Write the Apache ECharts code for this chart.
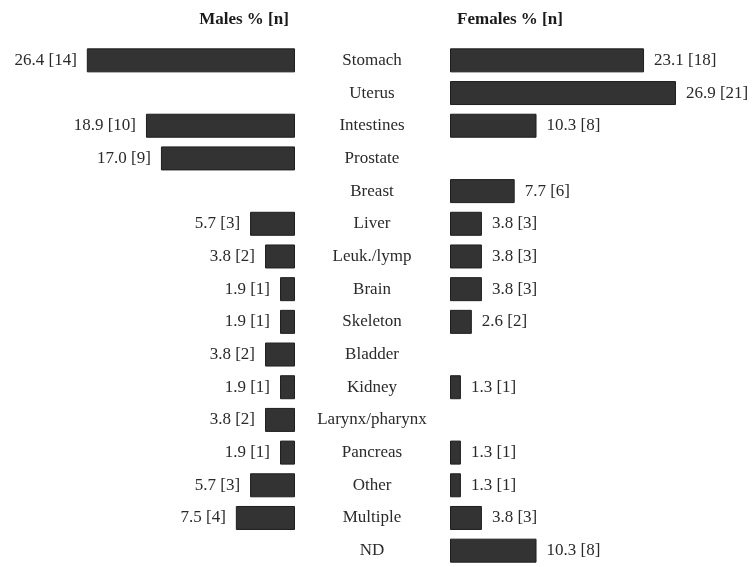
<!DOCTYPE html>
<html>
<head>
<meta charset="utf-8">
<script src="https://cdn.jsdelivr.net/npm/echarts@6/dist/echarts.min.js"></script>
<style>
  html, body { margin: 0; padding: 0; background: #fff; }
  #chart { width: 756px; height: 567px; }
</style>
</head>
<body>
<div id="chart"></div>
<script>
// Sites, top to bottom
const categories = ['Stomach', 'Uterus', 'Intestines', 'Prostate', 'Breast', 'Liver', 'Leuk./lymp', 'Brain',
  'Skeleton', 'Bladder', 'Kidney', 'Larynx/pharynx', 'Pancreas', 'Other', 'Multiple', 'ND'];

const malePct = [26.4, null, 18.9, 17.0, null, 5.7, 3.8, 1.9, 1.9, 3.8, 1.9, 3.8, 1.9, 5.7, 7.5, null];
const maleN = [14, null, 10, 9, null, 3, 2, 1, 1, 2, 1, 2, 1, 3, 4, null];

const femalePct = [23.1, 26.9, 10.3, null, 7.7, 3.8, 3.8, 3.8, 2.6, null, 1.3, null, 1.3, 1.3, 3.8, 10.3];
const femaleN = [18, 21, 8, null, 6, 3, 3, 3, 2, null, 1, null, 1, 1, 3, 8];

const FONT = '"Liberation Serif", "DejaVu Serif", serif';
const BAR = '#333333';
const TEXT = '#2a2a2a';

const chart = echarts.init(document.getElementById('chart'), null, { renderer: 'canvas' });

function fmt(pcts, counts) {
  return (p) => pcts[p.dataIndex] == null ? '' : pcts[p.dataIndex].toFixed(1) + ' [' + counts[p.dataIndex] + ']';
}

const hiddenValueAxis = {
  type: 'value',
  min: 0,
  max: 35,
  axisLine: { show: false },
  axisTick: { show: false },
  axisLabel: { show: false },
  splitLine: { show: false }
};

chart.setOption({
  animation: false,
  backgroundColor: '#fff',
  title: [
    { text: 'Males % [n]', left: 239, top: 6, textAlign: 'center',
      textStyle: { fontFamily: FONT, fontSize: 17, fontWeight: 'bold', color: '#1a1a1a' } },
    { text: 'Females % [n]', left: 505, top: 6, textAlign: 'center',
      textStyle: { fontFamily: FONT, fontSize: 17, fontWeight: 'bold', color: '#1a1a1a' } }
  ],
  grid: [
    { left: 19, width: 276, top: 44, height: 523 },
    { left: 450, width: 294, top: 44, height: 523 }
  ],
  xAxis: [
    Object.assign({ gridIndex: 0, inverse: true }, hiddenValueAxis),
    Object.assign({ gridIndex: 1 }, hiddenValueAxis)
  ],
  yAxis: [
    {
      type: 'category', gridIndex: 0, data: categories, inverse: true,
      axisLine: { show: false }, axisTick: { show: false }, axisLabel: { show: false }
    },
    {
      type: 'category', gridIndex: 1, data: categories, inverse: true,
      axisLine: { show: false }, axisTick: { show: false },
      axisLabel: {
        margin: 78, align: 'center', fontFamily: FONT, fontSize: 17, color: TEXT,
        lineHeight: 17, padding: [0, 0, 3, 0]
      }
    }
  ],
  series: [
    {
      name: 'Males',
      type: 'bar',
      xAxisIndex: 0,
      yAxisIndex: 0,
      data: malePct,
      barWidth: 24,
      itemStyle: { color: BAR, borderColor: '#1e1e1e', borderWidth: 1 },
      label: {
        show: true, position: 'left', distance: 10, formatter: fmt(malePct, maleN),
        fontFamily: FONT, fontSize: 17, color: TEXT
      }
    },
    {
      name: 'Females',
      type: 'bar',
      xAxisIndex: 1,
      yAxisIndex: 1,
      data: femalePct,
      barWidth: 24,
      itemStyle: { color: BAR, borderColor: '#1e1e1e', borderWidth: 1 },
      label: {
        show: true, position: 'right', distance: 10, formatter: fmt(femalePct, femaleN),
        fontFamily: FONT, fontSize: 17, color: TEXT
      }
    }
  ]
});
</script>
</body>
</html>
